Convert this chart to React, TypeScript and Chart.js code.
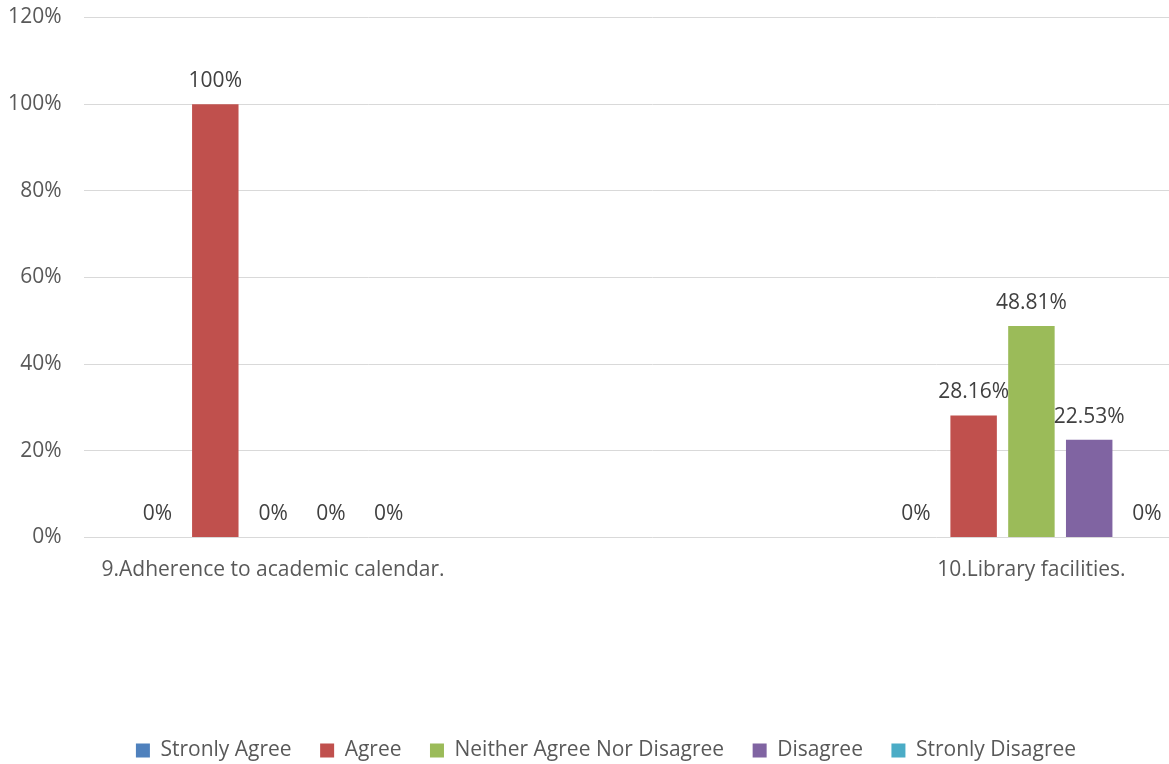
import React, { useEffect, useRef } from "react";
import { Chart, registerables } from "chart.js";

Chart.register(...registerables);

const categories = ["9.Adherence to academic calendar.", "", "10.Library facilities."];
const seriesNames = ["Stronly Agree", "Agree", "Neither Agree Nor Disagree", "Disagree", "Stronly Disagree"];
const stronlyAgree = [0, null, 0];
const agree = [100, null, 28.16];
const neitherAgreeNorDisagree = [0, null, 48.81];
const disagree = [0, null, 22.53];
const stronlyDisagree = [0, null, 0];
const seriesColors = ["#4F81BD", "#C0504D", "#9BBB59", "#8064A2", "#4BACC6"];
const yTicks = [0, 20, 40, 60, 80, 100, 120];

const FONT = "'Open Sans', sans-serif";
const FONT_SIZE = 21;

const valueLabelPlugin = {
  id: "valueLabels",
  afterDatasetsDraw(chart: any) {
    const { ctx } = chart;
    ctx.save();
    ctx.font = `${FONT_SIZE}px ${FONT}`;
    ctx.fillStyle = "#404040";
    ctx.textAlign = "center";
    ctx.textBaseline = "middle";
    chart.data.datasets.forEach((ds: any, i: number) => {
      const meta = chart.getDatasetMeta(i);
      meta.data.forEach((bar: any, j: number) => {
        const v = ds.data[j];
        if (v === null || v === undefined) return;
        ctx.fillText(`${v}%`, bar.x, bar.y - 23);
      });
    });
    ctx.restore();
  },
};

export default function App() {
  const canvasRef = useRef<HTMLCanvasElement | null>(null);

  useEffect(() => {
    let chart: Chart | null = null;
    let cancelled = false;
    const build = () => {
      if (cancelled || !canvasRef.current) return;
      const seriesData = [stronlyAgree, agree, neitherAgreeNorDisagree, disagree, stronlyDisagree];
      chart = new Chart(canvasRef.current, {
        type: "bar",
        data: {
          labels: categories,
          datasets: seriesNames.map((name, i) => ({
            label: name,
            data: seriesData[i],
            backgroundColor: seriesColors[i],
            borderWidth: 0,
            categoryPercentage: 0.762,
            barPercentage: 0.804,
          })),
        },
        options: {
          responsive: false,
          animation: false,
          layout: { padding: { left: 0, right: 20, top: 17.5, bottom: 0 } },
          font: { family: FONT, size: FONT_SIZE },
          plugins: {
            legend: {
              position: "bottom",
              labels: {
                boxWidth: 14,
                boxHeight: 14,
                padding: 28.5,
                color: "#595959",
                font: { family: FONT, size: FONT_SIZE },
              },
            },
            tooltip: { enabled: false },
          },
          scales: {
            x: {
              grid: { display: false, drawTicks: false },
              border: { display: false },
              ticks: {
                color: "#595959",
                font: { family: FONT, size: FONT_SIZE },
                padding: 20,
                maxRotation: 0,
                autoSkip: false,
              },
              afterFit: (scale: any) => {
                scale.height = 174;
                scale.paddingLeft = 0;
                scale.paddingRight = 0;
              },
            },
            y: {
              min: 0,
              max: 120,
              afterBuildTicks: (scale: any) => {
                scale.ticks = yTicks.map((v) => ({ value: v }));
              },
              grid: { color: "#D9D9D9", lineWidth: 1, drawTicks: false },
              border: { display: false },
              ticks: {
                color: "#595959",
                font: { family: FONT, size: FONT_SIZE },
                padding: 22,
                callback: (v: any) => `${v}%`,
              },
              afterFit: (scale: any) => {
                scale.width = 92.5;
                scale.paddingTop = 0;
                scale.paddingBottom = 0;
              },
            },
          },
        } as any,
        plugins: [valueLabelPlugin],
      });
    };
    const fontsReady = (document as any).fonts?.load
      ? (document as any).fonts.load(`${FONT_SIZE}px 'Open Sans'`).catch(() => null)
      : Promise.resolve();
    fontsReady.then(build);
    return () => {
      cancelled = true;
      if (chart) chart.destroy();
    };
  }, []);

  return (
    <div
      style={{
        position: "absolute",
        left: 0,
        top: 0,
        width: 1169,
        height: 764,
        overflow: "hidden",
        background: "#ffffff",
      }}
    >
      <canvas
        ref={canvasRef}
        width={1250}
        height={771}
        style={{ position: "absolute", left: -9, top: 0, width: 1250, height: 771 }}
      />
    </div>
  );
}
